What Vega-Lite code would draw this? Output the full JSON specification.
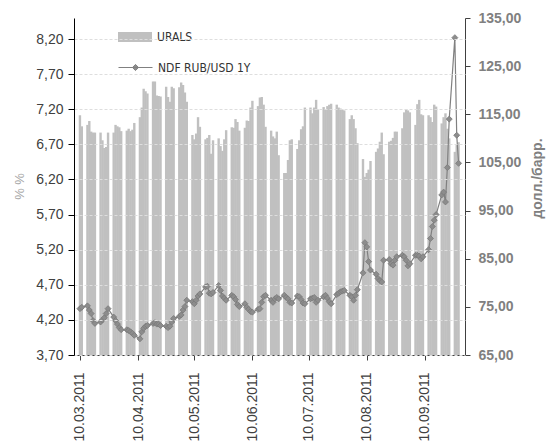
{
  "$schema": "https://vega.github.io/schema/vega-lite/v6.json",
  "width": 391,
  "height": 337,
  "autosize": {"type": "none"},
  "padding": {"left": 74, "top": 18, "right": 83, "bottom": 90},
  "background": "white",
  "config": {"view": {"stroke": null}, "font": "Liberation Sans"},
  "data": {"values": [
    {"d":"2011-03-10","u":114.8,"n":4.36},{"d":"2011-03-11","u":112.5,"n":4.38},
    {"d":"2011-03-14","u":112.8,"n":4.40},{"d":"2011-03-15","u":113.6,"n":4.34},{"d":"2011-03-16","u":111.4,"n":4.29},{"d":"2011-03-17","u":111.2,"n":4.19},{"d":"2011-03-18","u":111.2,"n":4.15},
    {"d":"2011-03-21","u":111.2,"n":4.17},{"d":"2011-03-22","u":109.6,"n":4.20},{"d":"2011-03-23","u":108.0,"n":4.23},{"d":"2011-03-24","u":108.2,"n":4.29},{"d":"2011-03-25","u":111.2,"n":4.36},
    {"d":"2011-03-28","u":111.2,"n":4.24},{"d":"2011-03-29","u":112.8,"n":4.19},{"d":"2011-03-30","u":112.5,"n":4.14},{"d":"2011-03-31","u":112.3,"n":4.09},{"d":"2011-04-01","u":111.5,"n":4.06},
    {"d":"2011-04-04","u":111.6,"n":4.06},{"d":"2011-04-05","u":112.0,"n":4.05},{"d":"2011-04-06","u":111.5,"n":4.03},{"d":"2011-04-07","u":111.8,"n":4.01},{"d":"2011-04-08","u":113.2,"n":3.98},
    {"d":"2011-04-11","u":114.4,"n":3.93},{"d":"2011-04-12","u":116.4,"n":4.03},{"d":"2011-04-13","u":120.3,"n":4.08},{"d":"2011-04-14","u":119.8,"n":4.11},{"d":"2011-04-15","u":119.3,"n":4.12},
    {"d":"2011-04-18","u":121.8,"n":4.15},{"d":"2011-04-19","u":121.8,"n":4.16},{"d":"2011-04-20","u":118.9,"n":4.14},{"d":"2011-04-21","u":118.8,"n":4.14},{"d":"2011-04-22","u":118.7,"n":4.12},
    {"d":"2011-04-25","u":120.7,"n":4.11},{"d":"2011-04-26","u":118.6,"n":4.09},{"d":"2011-04-27","u":117.6,"n":4.11},{"d":"2011-04-28","u":120.7,"n":4.17},{"d":"2011-04-29","u":120.4,"n":4.22},
    {"d":"2011-05-02","u":120.6,"n":4.25},{"d":"2011-05-03","u":121.6,"n":4.27},{"d":"2011-05-04","u":121.1,"n":4.34},{"d":"2011-05-05","u":119.5,"n":4.39},{"d":"2011-05-06","u":117.6,"n":4.48},
    {"d":"2011-05-09","u":110.7,"n":4.46},{"d":"2011-05-10","u":109.8,"n":4.43},{"d":"2011-05-11","u":111.0,"n":4.48},{"d":"2011-05-12","u":114.4,"n":4.54},{"d":"2011-05-13","u":112.4,"n":4.57},
    {"d":"2011-05-16","u":109.8,"n":4.67},{"d":"2011-05-17","u":110.1,"n":4.68},{"d":"2011-05-18","u":110.7,"n":4.58},{"d":"2011-05-19","u":106.8,"n":4.57},{"d":"2011-05-20","u":109.6,"n":4.59},
    {"d":"2011-05-23","u":110.0,"n":4.69},{"d":"2011-05-24","u":108.4,"n":4.62},{"d":"2011-05-25","u":107.4,"n":4.54},{"d":"2011-05-26","u":109.8,"n":4.51},{"d":"2011-05-27","u":111.7,"n":4.48},
    {"d":"2011-05-30","u":112.3,"n":4.55},{"d":"2011-05-31","u":112.2,"n":4.53},{"d":"2011-06-01","u":114.0,"n":4.49},{"d":"2011-06-02","u":113.4,"n":4.42},{"d":"2011-06-03","u":111.6,"n":4.39},
    {"d":"2011-06-06","u":112.2,"n":4.43},{"d":"2011-06-07","u":113.7,"n":4.38},{"d":"2011-06-08","u":113.6,"n":4.35},{"d":"2011-06-09","u":116.4,"n":4.32},{"d":"2011-06-10","u":117.8,"n":4.31},
    {"d":"2011-06-13","u":116.7,"n":4.35},{"d":"2011-06-14","u":118.5,"n":4.36},{"d":"2011-06-15","u":118.6,"n":4.45},{"d":"2011-06-16","u":117.0,"n":4.53},{"d":"2011-06-17","u":112.4,"n":4.55},
    {"d":"2011-06-20","u":111.6,"n":4.48},{"d":"2011-06-21","u":110.4,"n":4.45},{"d":"2011-06-22","u":110.0,"n":4.50},{"d":"2011-06-23","u":111.4,"n":4.52},{"d":"2011-06-24","u":106.5,"n":4.50},
    {"d":"2011-06-27","u":102.8,"n":4.55},{"d":"2011-06-28","u":102.8,"n":4.52},{"d":"2011-06-29","u":105.5,"n":4.50},{"d":"2011-06-30","u":109.6,"n":4.45},{"d":"2011-07-01","u":109.8,"n":4.44},
    {"d":"2011-07-04","u":107.8,"n":4.54},{"d":"2011-07-05","u":109.6,"n":4.53},{"d":"2011-07-06","u":111.9,"n":4.49},{"d":"2011-07-07","u":112.5,"n":4.44},{"d":"2011-07-08","u":116.4,"n":4.43},
    {"d":"2011-07-11","u":116.4,"n":4.50},{"d":"2011-07-12","u":115.2,"n":4.51},{"d":"2011-07-13","u":116.4,"n":4.52},{"d":"2011-07-14","u":118.0,"n":4.45},{"d":"2011-07-15","u":116.0,"n":4.48},
    {"d":"2011-07-18","u":116.5,"n":4.53},{"d":"2011-07-19","u":116.0,"n":4.55},{"d":"2011-07-20","u":116.7,"n":4.51},{"d":"2011-07-21","u":117.0,"n":4.46},{"d":"2011-07-22","u":117.2,"n":4.43},
    {"d":"2011-07-25","u":117.0,"n":4.56},{"d":"2011-07-26","u":116.4,"n":4.58},{"d":"2011-07-27","u":116.2,"n":4.60},{"d":"2011-07-28","u":116.0,"n":4.61},{"d":"2011-07-29","u":115.8,"n":4.62},
    {"d":"2011-08-01","u":114.0,"n":4.55},{"d":"2011-08-02","u":114.8,"n":4.53},{"d":"2011-08-03","u":114.0,"n":4.48},{"d":"2011-08-04","u":112.1,"n":4.55},{"d":"2011-08-05","u":109.0,"n":4.63},
    {"d":"2011-08-08","u":105.7,"n":4.87},{"d":"2011-08-09","u":102.0,"n":5.30},{"d":"2011-08-10","u":102.8,"n":5.24},{"d":"2011-08-11","u":103.5,"n":5.03},{"d":"2011-08-12","u":105.3,"n":4.91},
    {"d":"2011-08-15","u":107.2,"n":4.85},{"d":"2011-08-16","u":107.9,"n":4.79},{"d":"2011-08-17","u":109.3,"n":4.76},{"d":"2011-08-18","u":111.2,"n":4.74},{"d":"2011-08-19","u":106.7,"n":5.05},
    {"d":"2011-08-22","u":109.3,"n":5.06},{"d":"2011-08-23","u":109.5,"n":5.00},{"d":"2011-08-24","u":110.1,"n":4.98},{"d":"2011-08-25","u":111.4,"n":5.05},{"d":"2011-08-26","u":111.4,"n":5.10},
    {"d":"2011-08-29","u":112.1,"n":5.12},{"d":"2011-08-30","u":115.4,"n":5.10},{"d":"2011-08-31","u":116.1,"n":5.05},{"d":"2011-09-01","u":115.8,"n":4.97},{"d":"2011-09-02","u":115.4,"n":5.00},
    {"d":"2011-09-05","u":112.8,"n":5.12},{"d":"2011-09-06","u":117.1,"n":5.12},{"d":"2011-09-07","u":118.0,"n":5.11},{"d":"2011-09-08","u":115.0,"n":5.07},{"d":"2011-09-09","u":114.8,"n":5.10},
    {"d":"2011-09-12","u":114.8,"n":5.20},{"d":"2011-09-13","u":114.4,"n":5.36},{"d":"2011-09-14","u":113.4,"n":5.53},{"d":"2011-09-15","u":117.0,"n":5.62},{"d":"2011-09-16","u":116.6,"n":5.70},
    {"d":"2011-09-19","u":113.1,"n":5.98},{"d":"2011-09-20","u":114.4,"n":6.02},{"d":"2011-09-21","u":115.2,"n":5.88},{"d":"2011-09-22","u":112.0,"n":6.37},{"d":"2011-09-23","u":110.0,"n":7.06},
    {"d":"2011-09-26","u":107.2,"n":8.22},{"d":"2011-09-27","u":108.6,"n":6.83},{"d":"2011-09-28","u":109.2,"n":6.43}
  ]},
  "encoding": {
    "x": {
      "field": "d", "type": "temporal",
      "scale": {"type": "utc", "domain": [
        {"year": 2011, "month": 3, "date": 9, "hours": 12, "utc": true},
        {"year": 2011, "month": 9, "date": 28, "hours": 18, "utc": true}
      ]},
      "axis": {
        "values": [
          {"year": 2011, "month": 3, "date": 10, "utc": true},
          {"year": 2011, "month": 4, "date": 10, "utc": true},
          {"year": 2011, "month": 5, "date": 10, "utc": true},
          {"year": 2011, "month": 6, "date": 10, "utc": true},
          {"year": 2011, "month": 7, "date": 10, "utc": true},
          {"year": 2011, "month": 8, "date": 10, "utc": true},
          {"year": 2011, "month": 9, "date": 10, "utc": true}
        ],
        "labelExpr": "utcFormat(datum.value, '%d.%m.%Y')",
        "labelAngle": 270,
        "labelFont": "Liberation Sans",
        "labelFontSize": 14,
        "labelColor": "#404040",
        "labelPadding": 12,
        "domainColor": "#404040",
        "tickColor": "#404040",
        "tickSize": 5,
        "grid": false,
        "title": null
      }
    }
  },
  "layer": [
    {
      "mark": {"type": "bar", "size": 2.4},
      "encoding": {
        "y": {
          "field": "u", "type": "quantitative",
          "scale": {"domain": [65, 135], "zero": false, "nice": false},
          "axis": {
            "orient": "right",
            "values": [65, 75, 85, 95, 105, 115, 125, 135],
            "labelExpr": "replace(format(datum.value, '.2f'), '.', ',')",
            "labelFont": "Liberation Sans",
            "labelFontWeight": "bold",
            "labelFontSize": 14,
            "labelColor": "#808080",
            "labelPadding": 8,
            "domainColor": "#404040",
            "tickColor": "#404040",
            "tickSize": 5,
            "grid": false,
            "title": "долл./барр.",
            "titleFont": "Liberation Sans",
            "titleFontSize": 14,
            "titleFontWeight": "bold",
            "titleColor": "#808080",
            "titleAngle": 270,
            "titleBaseline": "top",
            "titleAlign": "center",
            "titleX": 65,
            "titleY": 160
          }
        },
        "y2": {"datum": 65},
        "fill": {
          "datum": "URALS", "type": "nominal",
          "scale": {"range": ["#c0c0c0"]},
          "legend": {
            "orient": "none", "legendX": 44, "legendY": 2, "title": null, "padding": 0,
            "symbolType": "M-1,-0.29L1,-0.29L1,0.29L-1,0.29Z",
            "symbolSize": 1156,
            "symbolStrokeWidth": 0,
            "labelFont": "Liberation Sans Narrow, DejaVu Sans Condensed, sans-serif",
            "labelFontSize": 12,
            "labelColor": "#333333",
            "labelOffset": 5
          }
        }
      }
    },
    {
      "encoding": {
        "y": {
          "field": "n", "type": "quantitative",
          "scale": {"domain": [3.7, 8.5], "zero": false, "nice": false},
          "axis": {
            "orient": "left",
            "values": [3.7, 4.2, 4.7, 5.2, 5.7, 6.2, 6.7, 7.2, 7.7, 8.2],
            "labelExpr": "replace(format(datum.value, '.2f'), '.', ',')",
            "labelFont": "Liberation Sans",
            "labelFontSize": 14,
            "labelColor": "#404040",
            "labelPadding": 5,
            "domainColor": "#000000",
            "tickColor": "#000000",
            "tickSize": 6,
            "grid": true,
            "gridColor": "#dedede",
            "gridDash": [3, 2],
            "zindex": 1,
            "title": "% %",
            "titleFont": "Liberation Sans",
            "titleFontSize": 13,
            "titleFontWeight": "normal",
            "titleColor": "#a6a6a6",
            "titleAngle": 270,
            "titleBaseline": "middle",
            "titleAlign": "center",
            "titleX": -55,
            "titleY": 168
          }
        }
      },
      "layer": [
        {
          "mark": {"type": "line", "strokeWidth": 1.2},
          "encoding": {
            "stroke": {
              "datum": "NDF RUB/USD 1Y", "type": "nominal",
              "scale": {"range": ["#808080"]},
              "legend": {
                "orient": "none", "legendX": 44, "legendY": 32, "title": null, "padding": 0,
                "symbolType": "M-1,0L1,0M0,-0.18L0.18,0L0,0.18L-0.18,0Z",
                "symbolSize": 1156,
                "symbolStrokeWidth": 1,
                "labelFont": "Liberation Sans Narrow, DejaVu Sans Condensed, sans-serif",
                "labelFontSize": 12,
                "labelColor": "#333333",
                "labelOffset": 5,
                "encode": {"symbols": {"update": {"fill": {"value": "#8c8c8c"}, "stroke": {"value": "#808080"}}}}
              }
            }
          }
        },
        {
          "mark": {"type": "point", "shape": "diamond", "size": 36, "filled": true, "fill": "#8c8c8c", "stroke": "#7a7a7a", "strokeWidth": 0.8, "opacity": 1},
          "encoding": {}
        }
      ]
    }
  ],
  "resolve": {"scale": {"y": "independent"}}
}
